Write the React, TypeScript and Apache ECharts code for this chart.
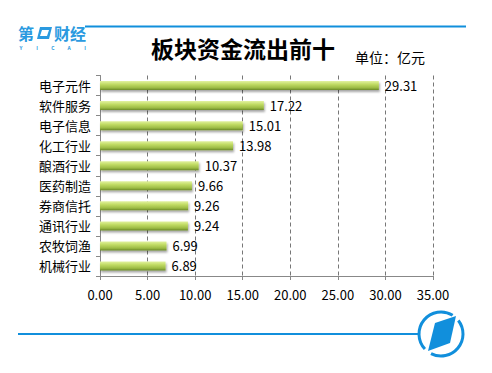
import React, { useEffect, useRef } from "react";
import * as echarts from "echarts";

const categories = ["电子元件", "软件服务", "电子信息", "化工行业", "酿酒行业", "医药制造", "券商信托", "通讯行业", "农牧饲渔", "机械行业"];
const values = [29.31, 17.22, 15.01, 13.98, 10.37, 9.66, 9.26, 9.24, 6.99, 6.89];
const titleText = "板块资金流出前十";
const unitText = "单位：亿元";
const logoLetters = ["Y", "I", "C", "A", "I"];

const BLUE = "#118fdc";
const FONT = "'Noto Sans CJK SC', 'Noto Sans', sans-serif";

export default function App() {
  const ref = useRef<HTMLDivElement>(null);
  useEffect(() => {
    document.body.style.margin = "0";
    const chart = echarts.init(ref.current!, null, { renderer: "svg" });
    const cx = 441, cy = 334, r = 22;
    const deg = (d: number) => (d * Math.PI) / 180;
    const letterEls = logoLetters.map((t, i) => ({
      type: "text",
      x: 21 + i * 16,
      y: 47,
      style: { text: t, fill: "#2a9ae0", font: "bold 5px " + FONT, textAlign: "center", textVerticalAlign: "middle" },
    }));
    chart.setOption({
      animation: false,
      backgroundColor: "#ffffff",
      textStyle: { fontFamily: FONT },
      grid: { left: 100, right: 59, top: 75.5, bottom: 97, containLabel: false },
      xAxis: {
        type: "value",
        min: 0,
        max: 35,
        interval: 5,
        axisLine: { show: true, lineStyle: { color: "#888", width: 1 } },
        axisTick: { show: true, length: 4, lineStyle: { color: "#888" } },
        axisLabel: { color: "#000", fontSize: 13, margin: 12, formatter: (v: number) => v.toFixed(2), fontFamily: FONT },
        splitLine: { show: true, lineStyle: { color: "#777", type: [4, 3], width: 1 } },
      },
      yAxis: {
        type: "category",
        inverse: true,
        data: categories,
        axisLine: { show: true, lineStyle: { color: "#888", width: 1 } },
        axisTick: { show: true, length: 4, lineStyle: { color: "#888" } },
        axisLabel: { color: "#000", fontSize: 13, margin: 9, fontFamily: FONT },
        splitLine: { show: false },
      },
      series: [
        {
          type: "bar",
          data: values,
          barWidth: 9,
          itemStyle: {
            color: new echarts.graphic.LinearGradient(0, 0, 0, 1, [
              { offset: 0, color: "#e2f2a0" },
              { offset: 0.35, color: "#c2dc66" },
              { offset: 0.75, color: "#9cbb44" },
              { offset: 1, color: "#6a8828" },
            ]),
            shadowColor: "rgba(0,0,0,0.35)",
            shadowBlur: 2,
            shadowOffsetY: 2,
            shadowOffsetX: 1,
          },
          label: {
            show: true,
            position: "right",
            distance: 6,
            color: "#000",
            fontSize: 13,
            fontFamily: FONT,
            formatter: (p: any) => p.value.toFixed(2),
          },
        },
      ],
      graphic: [
        { type: "line", shape: { x1: 85, y1: 26.5, x2: 466, y2: 26.5 }, style: { stroke: BLUE, lineWidth: 2 } },
        { type: "text", x: 18, y: 33, style: { text: "第", fill: "#2a9ae0", font: "bold 16px " + FONT, textVerticalAlign: "middle" } },
        { type: "polygon", shape: { points: [[40, 27], [52, 27], [49, 39], [37, 39]] }, style: { fill: "#2a9ae0" } },
        { type: "polygon", shape: { points: [[42, 30], [49, 30], [47, 36], [40, 36]] }, style: { fill: "#ffffff" } },
        { type: "text", x: 54, y: 33, style: { text: "财经", fill: "#2a9ae0", font: "bold 16px " + FONT, textVerticalAlign: "middle" } },
        ...letterEls,
        { type: "text", x: 243, y: 48, style: { text: titleText, fill: "#000", font: "bold 23px " + FONT, textAlign: "center", textVerticalAlign: "middle" } },
        { type: "text", x: 355, y: 57, style: { text: unitText, fill: "#000", font: "14px " + FONT, textAlign: "left", textVerticalAlign: "middle" } },
        { type: "line", shape: { x1: 18, y1: cy, x2: cx - r, y2: cy }, style: { stroke: BLUE, lineWidth: 2 } },
        { type: "arc", shape: { cx, cy, r, startAngle: deg(-38), endAngle: deg(117), clockwise: true }, style: { stroke: BLUE, lineWidth: 3, fill: "none" } },
        { type: "arc", shape: { cx, cy, r, startAngle: deg(137), endAngle: deg(302), clockwise: true }, style: { stroke: BLUE, lineWidth: 3, fill: "none" } },
        { type: "polygon", shape: { points: [[435, 323], [456, 316], [450, 343], [428, 351]] }, style: { fill: BLUE } },
      ],
    });
    return () => chart.dispose();
  }, []);
  return <div ref={ref} style={{ position: "fixed", left: 0, top: 0, width: 492, height: 373 }} />;
}
